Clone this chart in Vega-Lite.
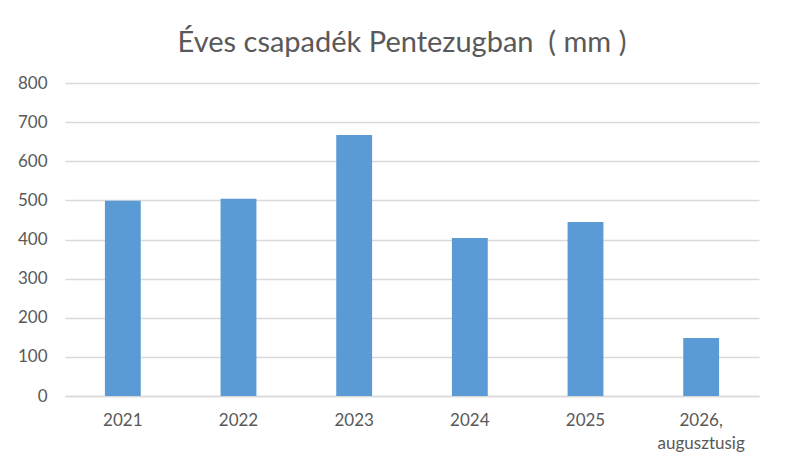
{
  "$schema": "https://vega.github.io/schema/vega-lite/v6.json",
  "width": 694,
  "height": 313,
  "autosize": {"type": "none"},
  "padding": {"left": 65, "top": 83, "right": 26, "bottom": 76},
  "background": "white",
  "title": {
    "text": "Éves csapadék Pentezugban \u00a0( mm )",
    "font": "Lato",
    "fontSize": 29,
    "fontWeight": "normal",
    "color": "#595959",
    "anchor": "middle",
    "dx": -10,
    "offset": 16
  },
  "data": {
    "values": [
      {"ev": "2021", "csapadek": 499},
      {"ev": "2022", "csapadek": 504},
      {"ev": "2023", "csapadek": 667},
      {"ev": "2024", "csapadek": 404},
      {"ev": "2025", "csapadek": 445},
      {"ev": "2026, augusztusig", "csapadek": 148}
    ]
  },
  "mark": {"type": "bar", "color": "#5b9bd5"},
  "encoding": {
    "x": {
      "field": "ev",
      "type": "nominal",
      "sort": null,
      "scale": {"paddingInner": 0.69, "paddingOuter": 0.345},
      "axis": {
        "title": null,
        "labelAngle": 0,
        "labelFont": "Lato",
        "labelFontSize": 17,
        "labelColor": "#595959",
        "labelPadding": 16,
        "labelLineHeight": 23,
        "labelExpr": "split(datum.label, ' ')",
        "ticks": false,
        "domainColor": "#d9d9d9",
        "domainWidth": 1.5
      }
    },
    "y": {
      "field": "csapadek",
      "type": "quantitative",
      "scale": {"domain": [0, 800]},
      "axis": {
        "title": null,
        "values": [0, 100, 200, 300, 400, 500, 600, 700, 800],
        "labelFont": "Lato",
        "labelFontSize": 17,
        "labelColor": "#595959",
        "labelPadding": 18,
        "ticks": false,
        "domain": false,
        "gridColor": "#d9d9d9",
        "gridWidth": 1.5
      }
    }
  },
  "config": {"view": {"stroke": null}}
}
